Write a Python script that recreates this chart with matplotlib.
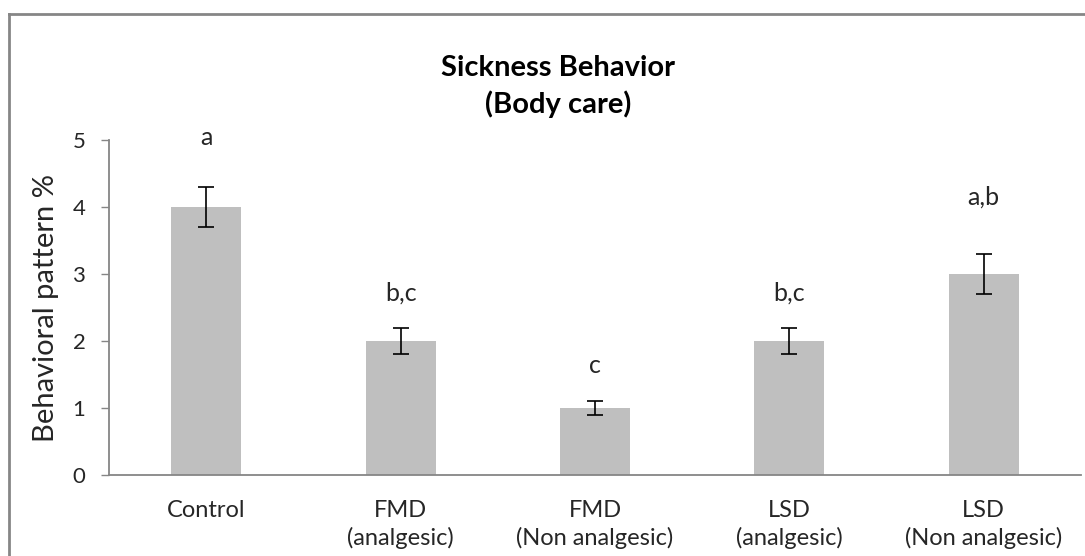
import matplotlib.pyplot as plt
from matplotlib.lines import Line2D

# -- data --
groups = ["Control", "FMD\n(analgesic)", "FMD\n(Non analgesic)",
          "LSD\n(analgesic)", "LSD\n(Non analgesic)"]
values = [4, 2, 1, 2, 3]
errors = [0.3, 0.2, 0.1, 0.2, 0.3]
letters = ["a", "b,c", "c", "b,c", "a,b"]
letter_y = [5.03, 2.72, 1.64, 2.72, 4.15]

plt.rcParams['font.family'] = ['Lato', 'DejaVu Sans']

fig = plt.figure(figsize=(10.85, 5.56), dpi=100)
ax = fig.add_axes([109 / 1085, 1 - 475 / 556, 972 / 1085, 335 / 556])

x = range(len(groups))
ax.bar(x, values, width=0.36, color="#bfbfbf", zorder=2)
ax.errorbar(x, values, yerr=errors, fmt="none", ecolor="black",
            elinewidth=1.2, capsize=5.5, capthick=1.2, zorder=3)

for i, t in enumerate(letters):
    ax.text(i, letter_y[i], t, ha="center", va="center", fontsize=18,
            color="#262626", clip_on=False)

ax.set_xlim(-0.5, len(groups) - 0.5)
ax.set_ylim(0, 5)
ax.set_yticks(range(6))
ax.set_xticks(list(x))
ax.set_xticklabels(groups, fontsize=17, color="#262626", linespacing=1.35)
ax.tick_params(axis="x", length=0, pad=18)
ax.tick_params(axis="y", length=6, width=1, color="#868686", labelsize=16,
               labelcolor="#262626", pad=11)

for s in ["top", "right"]:
    ax.spines[s].set_visible(False)
for s in ["left", "bottom"]:
    ax.spines[s].set_color("#868686")
    ax.spines[s].set_linewidth(1.3)

ax.set_ylabel("Behavioral pattern %", fontsize=21, color="#262626", labelpad=10)

fig.text(558 / 1085, 1 - 68 / 556, "Sickness Behavior", ha="center", va="center",
         fontsize=21, fontweight="bold", color="black")
fig.text(558 / 1085, 1 - 104 / 556, "(Body care)", ha="center", va="center",
         fontsize=21, fontweight="bold", color="black")

# outer chart border (top and left edges visible)
bx = 8.5 / 1085
by = 1 - 13.5 / 556
fig.add_artist(Line2D([bx, 1.01], [by, by], transform=fig.transFigure,
                      color="#868686", linewidth=2))
fig.add_artist(Line2D([bx, bx], [by, -0.01], transform=fig.transFigure,
                      color="#868686", linewidth=2))

plt.savefig("out.png", dpi=100)
